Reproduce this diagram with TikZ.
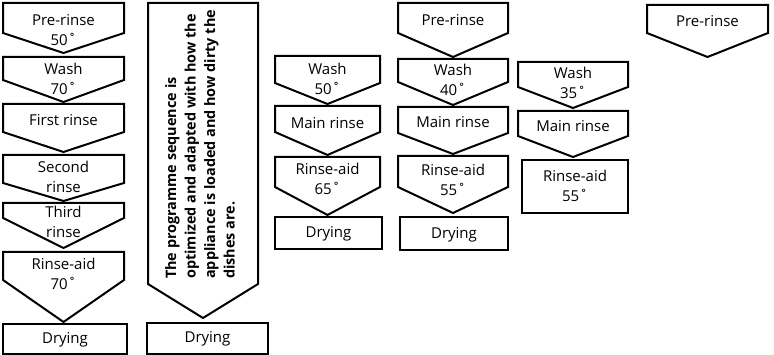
\documentclass[tikz,border=0pt]{standalone}
\usepackage{fontspec}
\setmainfont{Open Sans}
\newcommand\pentshape[5]{\draw[box] (#1,#3) -- (#2,#3) -- (#2,#4) -- ({(#1+#2)/2},#5) -- (#1,#4) -- cycle;}
\begin{document}
\begin{tikzpicture}[x=1pt,y=-1pt,
  box/.style={draw=black,line width=2pt,line join=miter},
  lbl/.style={font=\fontsize{15}{20}\selectfont,align=center,inner sep=0pt},
  bigtxt/.style={font=\bfseries\fontsize{14.4}{19.5}\selectfont,align=left,inner sep=0pt,rotate=90,anchor=west}]
\useasboundingbox (0,0) rectangle (774,355);
% column 1
\pentshape{3}{124}{3}{33}{53}
\pentshape{3}{124}{57}{80}{102}
\pentshape{3}{124}{104}{132}{152}
\pentshape{3}{124}{155}{183}{201}
\pentshape{3}{124}{203}{218}{248}
\pentshape{3}{124}{252}{280}{322}
\draw[box] (3,324) rectangle (127,354);
\node[lbl] (a1) at (63.5,30.5) {Pre-rinse\\50˚};
\node[lbl] (a2) at (63.5,78.5) {Wash\\70˚};
\node[lbl] (a3) at (63.5,120) {First rinse};
\node[lbl] (a4) at (63.5,176.5) {Second\\rinse};
\node[lbl] (a5) at (63.5,222) {Third\\rinse};
\node[lbl] (a6) at (63.5,274) {Rinse-aid\\70˚};
\node[lbl] (a7) at (65,340) {Drying};
% column 2
\pentshape{148}{258}{3}{284}{318}
\draw[box] (147,323) rectangle (268,354);
\node[bigtxt] (b1) at (200,279) {The programme sequence is\\optimized and adapted with how the\\appliance is loaded and how dirty the\\dishes are.};
\node[lbl] (b2) at (207.5,339) {Drying};
% column 3
\pentshape{275}{380}{56}{83}{104}
\pentshape{275}{380}{106}{132}{155}
\pentshape{275}{380}{157}{187}{215}
\draw[box] (275,217) rectangle (382,249);
\node[lbl] (c1) at (327.5,78.5) {Wash\\50˚};
\node[lbl] (c2) at (327.5,123) {Main rinse};
\node[lbl] (c3) at (327.5,179) {Rinse-aid\\65˚};
\node[lbl] (c4) at (328.5,234) {Drying};
% column 4
\pentshape{398}{508}{3}{33}{57}
\pentshape{398}{508}{59}{82}{105}
\pentshape{398}{508}{107}{133}{154}
\pentshape{398}{508}{156}{187}{213}
\draw[box] (400,217) rectangle (508,250);
\node[lbl] (d1) at (453,20) {Pre-rinse};
\node[lbl] (d2) at (453,79.5) {Wash\\40˚};
\node[lbl] (d3) at (453,122) {Main rinse};
\node[lbl] (d4) at (453,180) {Rinse-aid\\55˚};
\node[lbl] (d5) at (454,235) {Drying};
% column 5
\pentshape{518}{628}{62}{87}{108}
\pentshape{518}{628}{111}{136}{157}
\draw[box] (522,160) rectangle (628,213);
\node[lbl] (e1) at (573,82.5) {Wash\\35˚};
\node[lbl] (e2) at (573,126) {Main rinse};
\node[lbl] (e3) at (575,186) {Rinse-aid\\55˚};
% column 6
\pentshape{647}{768}{5}{33}{57}
\node[lbl] (f1) at (707.5,21) {Pre-rinse};
\end{tikzpicture}
\end{document}
